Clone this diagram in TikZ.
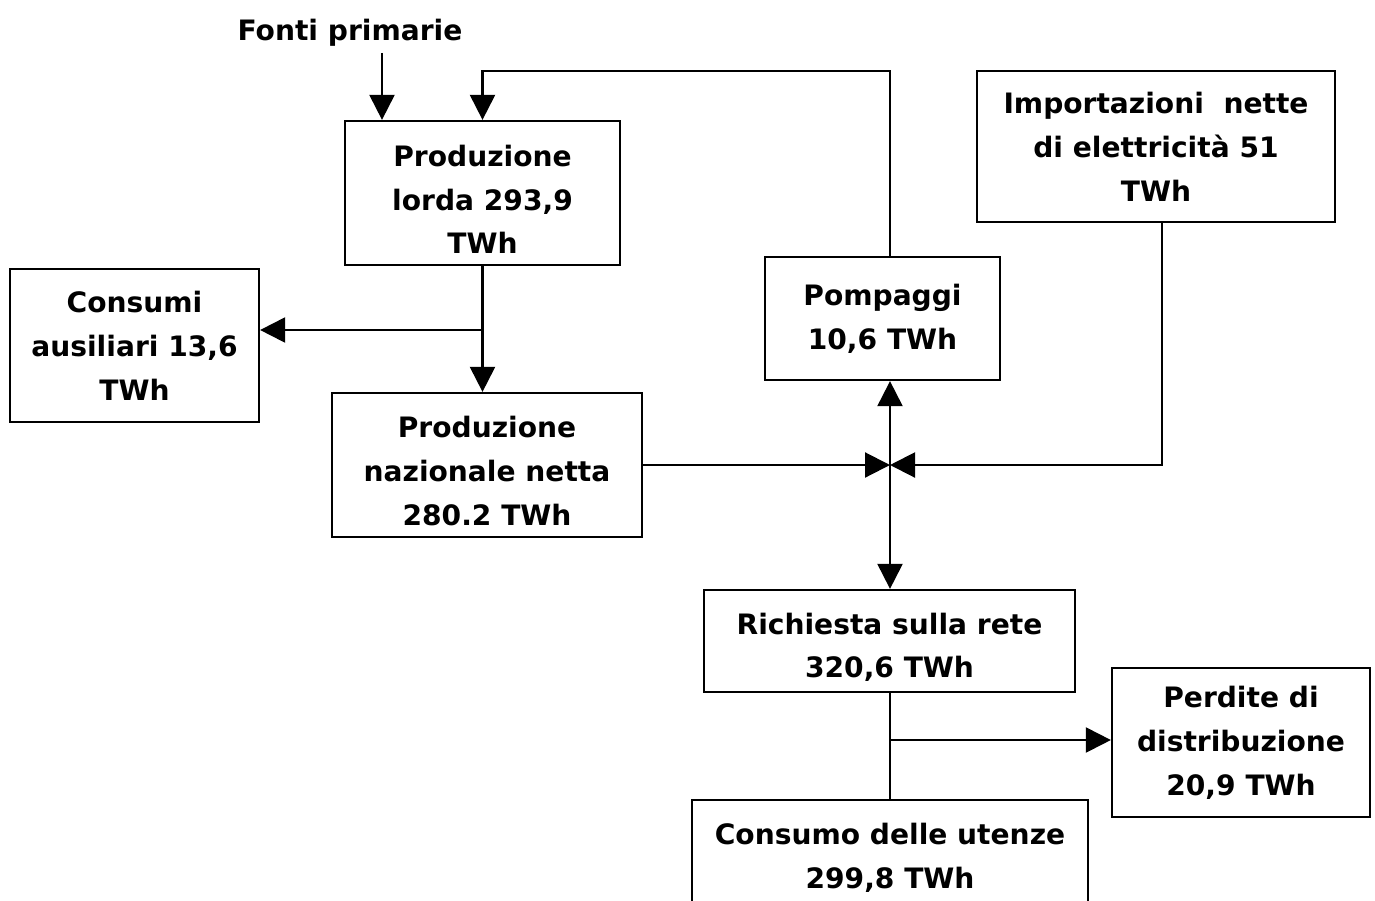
\documentclass[tikz,border=0pt]{standalone}
\usepackage{fontspec}
\setmainfont{DejaVu Sans}
\usetikzlibrary{arrows.meta}
\newcommand{\lift}{\rule{0pt}{0.68cm}}
\begin{document}
\begin{tikzpicture}[x=0.02cm, y=-0.02cm, txt/.style={font=\bfseries\fontsize{16}{25}\selectfont}, box/.style={txt, draw, line width=1.3pt, align=center, inner sep=0pt}, arr/.style={line width=1.2pt, -{Triangle[length=0.5cm, width=0.5cm]}}, ln/.style={line width=1.2pt}]
\useasboundingbox (0,0) rectangle (1375,900);
\node[txt] (fonti) at (350,33) {Fonti primarie};
\node[box, minimum width=5.5cm, minimum height=2.88cm] (lorda) at (482.5,193) {\lift Produzione\\lorda 293,9\\TWh};
\node[box, minimum width=4.98cm, minimum height=3.06cm] (aus) at (134.5,345.5) {Consumi\\ausiliari 13,6\\TWh};
\node[box, minimum width=6.2cm, minimum height=2.88cm] (netta) at (487,465) {\lift Produzione\\nazionale netta\\280.2 TWh};
\node[box, minimum width=4.7cm, minimum height=2.46cm] (pomp) at (882.5,318.5) {Pompaggi\\10,6 TWh};
\node[box, minimum width=7.16cm, minimum height=3.02cm] (imp) at (1156,146.5) {Importazioni\ \ nette\\di elettricità 51\\TWh};
\node[box, minimum width=7.42cm, minimum height=2.04cm] (rich) at (889.5,641) {\lift Richiesta sulla rete\\320,6 TWh};
\node[box, minimum width=5.16cm, minimum height=2.98cm] (perd) at (1241,742.5) {Perdite di\\distribuzione\\20,9 TWh};
\node[box, minimum width=7.92cm, minimum height=2.32cm] (cons) at (890,858) {Consumo delle utenze\\299,8 TWh};
\coordinate (j) at (890,465);
\coordinate (ret) at (890,71);
\coordinate (b1) at (483,330);
\coordinate (b2) at (890,740);
\draw[arr] ([xshift=0.64cm]fonti.south) -- ([xshift=0.64cm]fonti.south |- lorda.north);
\draw[arr] (j |- pomp.north) -- (ret) -| (lorda.north);
\draw[arr] (lorda.south) -- (lorda.south |- netta.north);
\draw[arr] (b1) -- (b1 -| aus.east);
\draw[arr] (netta.east |- j) -- (j);
\draw[arr] ([xshift=0.12cm]imp.south) |- (j);
\draw[arr] (j) -- (j |- pomp.south);
\draw[arr] (j) -- (j |- rich.north);
\draw[ln] (j |- rich.south) -- (j |- cons.north);
\draw[arr] (b2) -- (b2 -| perd.west);
\end{tikzpicture}
\end{document}
